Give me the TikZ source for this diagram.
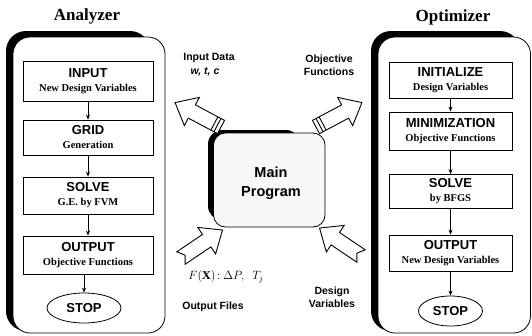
\documentclass[tikz,border=0pt]{standalone}
\usepackage{fontspec}
\setmainfont{Liberation Serif}
\setsansfont{Liberation Sans}
\usetikzlibrary{arrows.meta,shapes.geometric}
\newcommand{\bxtext}[2]{{\fontsize{13}{14}\selectfont\sffamily\bfseries #1}\\[2pt]{\fontsize{10.5}{12}\selectfont\bfseries #2}}
\begin{document}
\begin{tikzpicture}[x=1pt,y=-1pt,
  stepbox/.style={draw, line width=0.8pt, fill=white, align=center, inner sep=0pt, minimum width=#1},
  stopnode/.style={draw, ellipse, line width=0.8pt, fill=white, inner sep=0pt, font=\fontsize{13}{14}\selectfont\sffamily\bfseries},
  conn/.style={line width=0.7pt, -{Stealth[length=5pt,width=4pt]}},
  title/.style={font=\fontsize{17}{19}\selectfont\bfseries},
  lbl/.style={font=\fontsize{10.5}{12}\selectfont\sffamily\bfseries, align=center, inner sep=0pt},
  bigarrow/.style={line width=0.9pt, fill=white, line join=miter},
  panel/.style={line width=0.8pt, fill=white}]
\useasboundingbox (0,0) rectangle (532,335);

% titles
\node[title] (tA) at (87,16) {Analyzer};
\node[title] (tO) at (453,17) {Optimizer};

% left panel
\fill[black, rounded corners=20pt] (6,31) rectangle (150,331);
\draw[panel, rounded corners=17pt] (13,37) rectangle (165,333);

% right panel
\fill[black, rounded corners=20pt] (371,31) rectangle (520,331);
\draw[panel, rounded corners=17pt] (378,37) rectangle (530.5,333);

% main program
\fill[black, rounded corners=14pt] (208,130) rectangle (300,220);
\draw[line width=0.8pt, fill=gray!6, rounded corners=12pt] (213.5,133) rectangle (325,227);
\node[font=\fontsize{14.5}{19}\selectfont\sffamily\bfseries, align=center] (main) at (271,183) {Main\\Program};

% analyzer boxes
\node[stepbox=130, minimum height=40] (a1) at (88,81) {\bxtext{INPUT}{New Design Variables}};
\node[stepbox=130, minimum height=35] (a2) at (88,137.5) {\bxtext{GRID}{Generation}};
\node[stepbox=130, minimum height=37] (a3) at (88,195.5) {\bxtext{SOLVE}{G.E. by FVM}};
\node[stepbox=130, minimum height=38] (a4) at (88,255) {\bxtext{OUTPUT}{Objective Functions}};
\node[stopnode, minimum width=74, minimum height=30] (a5) at (84,308) {STOP};
\draw[conn] (a1.south) -- (a2.north);
\draw[conn] (a2.south) -- (a3.north);
\draw[conn] (a3.south) -- (a4.north);
\draw[conn] (a4.south -| a5.north) -- (a5.north);

% optimizer boxes
\node[stepbox=123, minimum height=36] (o1) at (450.5,80) {\bxtext{INITIALIZE}{Design Variables}};
\node[stepbox=123, minimum height=38] (o2) at (450.5,131) {\bxtext{MINIMIZATION}{Objective Functions}};
\node[stepbox=123, minimum height=34] (o3) at (450.5,191.5) {\bxtext{SOLVE}{by BFGS}};
\node[stepbox=123, minimum height=36] (o4) at (450.5,253) {\bxtext{OUTPUT}{New Design Variables}};
\node[stopnode, minimum width=64, minimum height=30] (o5) at (450.5,311) {STOP};
\draw[conn] (o1.south) -- (o2.north);
\draw[conn] (o2.south) -- (o3.north);
\draw[conn] (o3.south) -- (o4.north);
\draw[conn] (o4.south) -- (o5.north);

% big hollow arrows
\begin{scope}[shift={(221,127)}, rotate=152]
\draw[bigarrow] (0,-7.5) -- (33,-7.5) -- (33,-16) -- (52,0) -- (33,16) -- (33,7.5) -- (0,7.5) -- cycle;
\draw[line width=0.9pt] (4,-7.5) -- (4,7.5) (7.5,-7.5) -- (7.5,7.5);
\end{scope}
\begin{scope}[shift={(316,127)}, rotate=28]
\draw[bigarrow] (0,-7.5) -- (33,-7.5) -- (33,-16) -- (52,0) -- (33,16) -- (33,7.5) -- (0,7.5) -- cycle;
\draw[line width=0.9pt] (4,-7.5) -- (4,7.5) (7.5,-7.5) -- (7.5,7.5);
\end{scope}
\begin{scope}[shift={(181,258)}, rotate=34]
\draw[bigarrow] (0,-7.5) -- (31,-7.5) -- (31,-16) -- (50,0) -- (31,16) -- (31,7.5) -- (0,7.5) -- (5,0) -- cycle;
\end{scope}
\begin{scope}[shift={(361,256)}, rotate=146]
\draw[bigarrow] (0,-7.5) -- (31,-7.5) -- (31,-16) -- (50,0) -- (31,16) -- (31,7.5) -- (0,7.5) -- (5,0) -- cycle;
\end{scope}

% labels
\node[lbl] (l1) at (209,58) {Input Data};
\node[lbl, font=\fontsize{10.5}{12}\selectfont\sffamily\bfseries\itshape] (l2) at (205,72) {w, t, c};
\node[lbl] (l3) at (329,65) {Objective\\[1pt]Functions};
\node[lbl] (l4) at (332,297) {Design\\[1pt]Variables};
\node[inner sep=0pt, font=\fontsize{12}{14}\selectfont] (l5) at (226,277) {$F(\mathbf{X})\!:\Delta P,\ \ T_j$};
\node[lbl] (l6) at (213,307) {Output Files};
\end{tikzpicture}
\end{document}
